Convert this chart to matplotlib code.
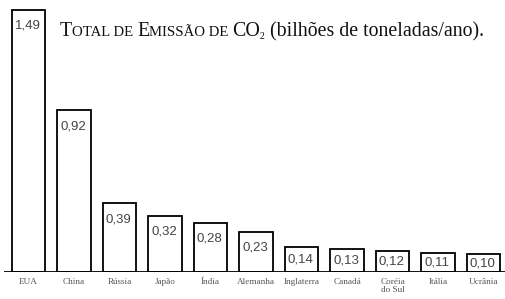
import matplotlib
matplotlib.use("Agg")
import matplotlib.pyplot as plt

categories = ["EUA", "China", "Rússia", "Japão", "Índia", "Alemanha",
              "Inglaterra", "Canadá", "Coréia\ndo Sul", "Itália", "Ucrânia"]
values = [1.49, 0.92, 0.39, 0.32, 0.28, 0.23, 0.14, 0.13, 0.12, 0.11, 0.10]
value_labels = ["1,49", "0,92", "0,39", "0,32", "0,28", "0,23",
                "0,14", "0,13", "0,12", "0,11", "0,10"]

W, H = 505, 299
fig = plt.figure(figsize=(W / 100, H / 100), dpi=100)
base_px = 272
ax = fig.add_axes([4 / W, (H - base_px) / H, 1 - 4 / W, base_px / H])
px_per_unit = 176.0
ax.set_ylim(0, base_px / px_per_unit)
ax.set_xlim(-0.538, 10.47)
ax.axis("off")

x = list(range(len(categories)))
ax.bar(x, values, width=0.73, color="white", edgecolor="black",
       linewidth=1.3, zorder=2)
ax.axhline(0, color="black", linewidth=1.3, zorder=3)

for xi, v, lab in zip(x, values, value_labels):
    h_px = v * px_per_unit
    off_px = 16 if h_px > 34 else h_px / 2
    ax.annotate(lab, (xi - 0.365, v), xytext=(3, -off_px), textcoords="offset pixels",
                ha="left", va="center", fontsize=9.5, family="Liberation Sans",
                color="#444444")
    ax.annotate(categories[xi], (xi, 0), xytext=(0, -6), textcoords="offset pixels",
                ha="center", va="top", fontsize=6.6, family="Liberation Serif",
                color="#555555", linespacing=1.05)

# Title in small caps built from pieces
big, small = 14.3, 10.6
pieces = [("T", big, 0), ("OTAL DE ", small, 0), ("E", big, 0), ("MISSÃO DE ", small, 0),
          ("CO", big, 0), ("2", 7.0, -3), (" (bilhões de toneladas/ano).", big, 0)]
renderer = fig.canvas.get_renderer()
xpos = 60
baseline = H - 36
for txt, size, dy in pieces:
    t = fig.text(xpos / W, (baseline + dy) / H, txt, fontsize=size,
                 family="Liberation Serif", color="#111111", va="baseline", ha="left")
    bb = t.get_window_extent(renderer=renderer)
    xpos += bb.width

fig.savefig("out.png", dpi=100)
